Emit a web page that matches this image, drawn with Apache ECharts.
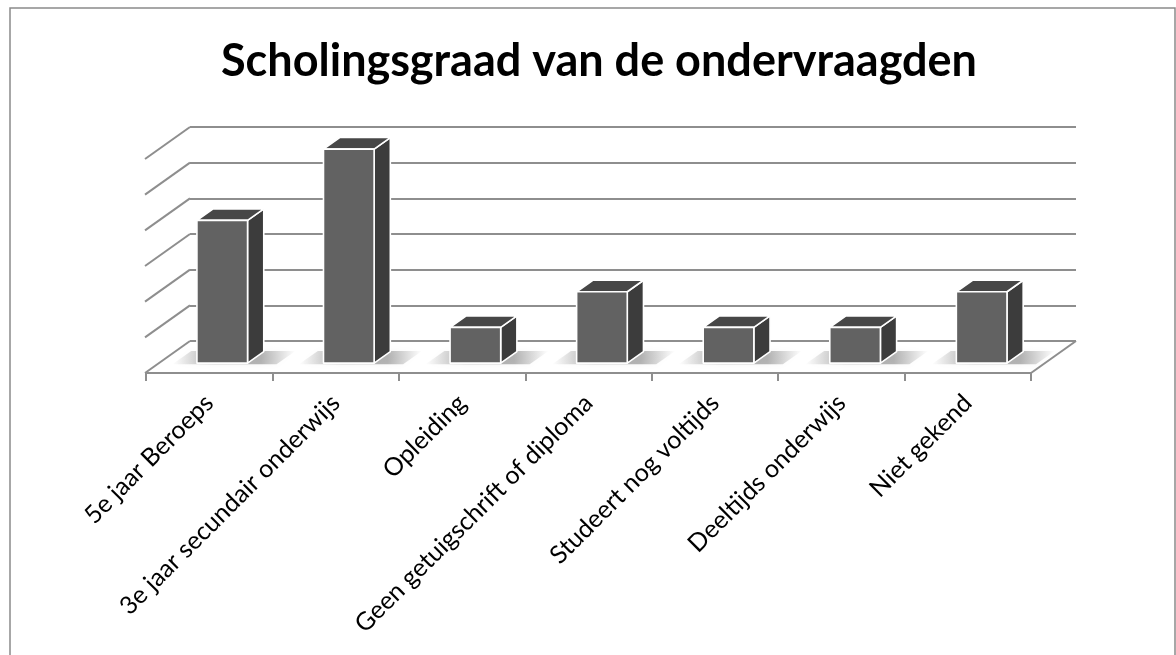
<!DOCTYPE html>
<html>
<head>
<meta charset="utf-8">
<script src="https://cdn.jsdelivr.net/npm/echarts@6/dist/echarts.min.js"></script>
<style>
html,body{margin:0;padding:0;background:#fff;}
#chart{width:1176px;height:655px;}
</style>
</head>
<body>
<div id="chart"></div>
<script>
const titleText = 'Scholingsgraad van de ondervraagden';
const categories = ['5e jaar Beroeps', '3e jaar secundair onderwijs', 'Opleiding', 'Geen getuigschrift of diploma', 'Studeert nog voltijds', 'Deeltijds onderwijs', 'Niet gekend'];
const values = [4, 6, 1, 2, 1, 1, 2];
const yTicks = [0, 1, 2, 3, 4, 5, 6];

// oblique depth projection (full depth of floor)
const DX = 45, DY = 32;
const D_FRONT = 0.69, D_BACK = 0.33;
const proj = (x, y, d) => [x - DX * d, y + DY * d];
const GRID_COLOR = '#8e8e8e';

const chart = echarts.init(document.getElementById('chart'), null, {renderer: 'canvas'});

function renderWalls(params, api) {
  const cs = params.coordSys;
  const v = api.value(1);
  const p = api.coord([0, v]);
  const y = p[1];
  const children = [];
  const a = [cs.x, y];
  const b = proj(cs.x, y, 1);
  children.push({type: 'line', shape: {x1: a[0], y1: a[1], x2: b[0], y2: b[1]},
    style: {stroke: GRID_COLOR, lineWidth: 2}});
  if (v === 0) {
    const r = [cs.x + cs.width, y];
    const rf = proj(cs.x + cs.width, y, 1);
    children.push({type: 'line', shape: {x1: r[0], y1: r[1], x2: rf[0], y2: rf[1]},
      style: {stroke: GRID_COLOR, lineWidth: 2}});
  }
  return {type: 'group', children: children};
}

function renderBar(params, api) {
  const i = api.value(0);
  const v = api.value(1);
  const c0 = api.coord([i, 0]);
  const c1 = api.coord([i, v]);
  const bw = api.size([1, 0])[0] * 0.4;
  const xL = c0[0] - bw / 2, xR = c0[0] + bw / 2;
  const y0 = c0[1], y1 = c1[1];
  const pts = (arr) => arr.map(a => proj(a[0], a[1], a[2]));
  const front = pts([[xL, y0, D_FRONT], [xR, y0, D_FRONT], [xR, y1, D_FRONT], [xL, y1, D_FRONT]]);
  const side = pts([[xR, y0, D_FRONT], [xR, y0, D_BACK], [xR, y1, D_BACK], [xR, y1, D_FRONT]]);
  const top = pts([[xL, y1, D_FRONT], [xR, y1, D_FRONT], [xR, y1, D_BACK], [xL, y1, D_BACK]]);
  const ext = bw * 0.45;
  const shadow = pts([[xL - ext, y0, D_FRONT + 0.04], [xR + ext + 8, y0, D_FRONT + 0.04], [xR + ext + 8, y0, D_BACK - 0.02], [xL - ext, y0, D_BACK - 0.02]]);
  const stroke = {stroke: '#ffffff', lineWidth: 1.6, lineJoin: 'round'};
  return {
    type: 'group',
    children: [
      {type: 'polygon', shape: {points: shadow}, silent: true,
        style: {fill: new echarts.graphic.LinearGradient(0, 0, 1, 0, [
          {offset: 0, color: 'rgba(0,0,0,0)'},
          {offset: 0.35, color: 'rgba(0,0,0,0.30)'},
          {offset: 0.72, color: 'rgba(0,0,0,0.28)'},
          {offset: 1, color: 'rgba(0,0,0,0)'}
        ]), shadowBlur: 6, shadowColor: 'rgba(0,0,0,0.15)'}},
      {type: 'polygon', shape: {points: side}, style: Object.assign({fill: '#3c3c3c'}, stroke)},
      {type: 'polygon', shape: {points: top}, style: Object.assign({fill: '#474747'}, stroke)},
      {type: 'polygon', shape: {points: front}, style: Object.assign({fill: '#626262'}, stroke)}
    ]
  };
}

const option = {
  backgroundColor: '#ffffff',
  animation: false,
  title: {
    text: titleText,
    left: 594,
    textAlign: 'center',
    top: 34,
    textStyle: {fontFamily: 'Lato', fontWeight: 'bold', fontSize: 45, color: '#000'}
  },
  graphic: [{
    type: 'rect', shape: {x: 10, y: 8, width: 1165, height: 680},
    style: {fill: 'none', stroke: '#8a8a8a', lineWidth: 1.5}, silent: true, z: -10
  }],
  grid: [
    {left: 190, top: 127, width: 886, height: 214},
    {left: 146, top: 300, width: 885, height: 73}
  ],
  xAxis: [
    {gridIndex: 0, type: 'category', data: categories, show: false},
    {gridIndex: 1, type: 'category', data: categories,
      axisLine: {lineStyle: {color: GRID_COLOR, width: 2}},
      axisTick: {show: true, length: 8, lineStyle: {color: GRID_COLOR, width: 2}},
      axisLabel: {interval: 0, rotate: 45, margin: 26, fontFamily: 'Lato', fontSize: 25, color: '#000'}}
  ],
  yAxis: [
    {gridIndex: 0, type: 'value', min: 0, max: 6, interval: 1,
      axisLine: {show: false}, axisTick: {show: false}, axisLabel: {show: false},
      splitLine: {show: true, lineStyle: {color: GRID_COLOR, width: 2}}},
    {gridIndex: 1, type: 'value', show: false, splitLine: {show: false}}
  ],
  series: [
    {type: 'custom', xAxisIndex: 0, yAxisIndex: 0, renderItem: renderWalls,
      data: yTicks.map(v => [0, v]), silent: true, z: 1},
    {type: 'custom', xAxisIndex: 0, yAxisIndex: 0, renderItem: renderBar,
      data: values.map((v, i) => [i, v]), z: 3}
  ]
};
chart.setOption(option);
</script>
</body>
</html>
